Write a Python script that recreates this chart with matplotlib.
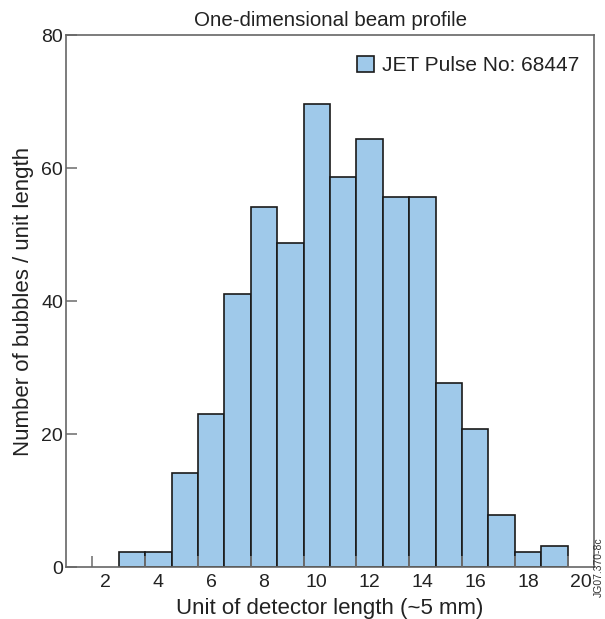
import numpy as np
import matplotlib
matplotlib.use('Agg')
import matplotlib.pyplot as plt
from matplotlib.ticker import FixedLocator

plt.rcParams['font.family'] = ['Liberation Sans', 'DejaVu Sans']

# bin centres and counts
bin_centres = [3, 4, 5, 6, 7, 8, 9, 10, 11, 12, 13, 14, 15, 16, 17, 18, 19]
counts = [2.2, 2.2, 14.2, 23.0, 41.0, 54.1, 48.7, 69.6, 58.7, 64.4,
          55.6, 55.6, 27.7, 20.8, 7.8, 2.2, 3.2]
x_ticks = [2, 4, 6, 8, 10, 12, 14, 16, 18, 20]
y_ticks = [0, 20, 40, 60, 80]
legend_label = 'JET Pulse No: 68447'

fig = plt.figure(figsize=(6.05, 6.19), dpi=100)
ax = fig.add_axes([0.109, 0.084, 0.873, 0.859])

ax.bar(bin_centres, counts, width=1.0, color='#9fc9ea', edgecolor='#1a1a1a',
       linewidth=1.2, label=legend_label)

ax.set_xlim(0.5, 20.5)
ax.set_ylim(0, 80)
ax.set_xticks(x_ticks)
ax.set_yticks(y_ticks)
ax.xaxis.set_minor_locator(FixedLocator(np.arange(1.5, 20, 2)))
ax.tick_params(axis='x', which='major', length=0, pad=5, labelsize=14, colors='#222222')
ax.tick_params(axis='x', which='minor', direction='in', length=8, width=1.2, color='#777777')
ax.tick_params(axis='y', direction='in', length=8, width=1.2, color='#777777',
               labelsize=14, labelcolor='#222222', pad=2)

for s in ax.spines.values():
    s.set_color('#666666')
    s.set_linewidth(1.2)

ax.set_xlabel('Unit of detector length (~5 mm)', fontsize=16, color='#222222', labelpad=5)
ax.set_ylabel('Number of bubbles / unit length', fontsize=16, color='#222222', labelpad=5)
ax.set_title('One-dimensional beam profile', fontsize=14.8, color='#222222', pad=7)

ax.legend(loc='upper right', bbox_to_anchor=(1.0, 0.988), frameon=False, fontsize=15,
          handlelength=0.8, handleheight=0.8, handletextpad=0.4, borderaxespad=0.3,
          labelcolor='#222222')

fig.text(0.998, 0.035, 'JG07.370-8c', rotation=90, fontsize=7.5,
         color='#333333', ha='right', va='bottom')

fig.savefig('out.png', dpi=100)
